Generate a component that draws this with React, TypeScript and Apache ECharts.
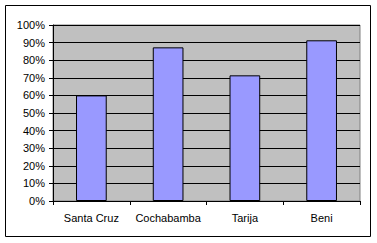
import React, { useEffect, useRef } from "react";
import * as echarts from "echarts";

const categories = ["Santa Cruz", "Cochabamba", "Tarija", "Beni"];
const values = [0.6, 0.873, 0.714, 0.913];

export default function App() {
  const ref = useRef<HTMLDivElement>(null);
  useEffect(() => {
    document.body.style.margin = "0";
    const chart = echarts.init(ref.current!, null, { renderer: "svg" });
    const font = { color: "#000", fontSize: 11, fontFamily: "Liberation Sans, Arial, sans-serif" };
    chart.setOption({
      animation: false,
      backgroundColor: "#fff",
      graphic: [
        {
          type: "rect",
          shape: { x: 5.5, y: 5.5, width: 365, height: 231 },
          style: { fill: "none", stroke: "#000", lineWidth: 1 },
          z: -1,
        },
      ],
      grid: {
        left: 53,
        top: 25,
        width: 307,
        height: 176,
        show: true,
        backgroundColor: "#C0C0C0",
        borderColor: "#808080",
        borderWidth: 1,
      },
      xAxis: {
        type: "category",
        data: categories,
        axisLine: { lineStyle: { color: "#000", width: 1 } },
        axisTick: { show: true, length: 4, lineStyle: { color: "#000" } },
        axisLabel: { ...font, margin: 11, interval: 0, hideOverlap: false },
        splitLine: { show: false },
      },
      yAxis: {
        type: "value",
        min: 0,
        max: 1,
        interval: 0.1,
        axisLine: { show: true, lineStyle: { color: "#000", width: 1 } },
        axisTick: { show: true, length: 4, lineStyle: { color: "#000" } },
        axisLabel: {
          ...font,
          margin: 8,
          formatter: (v: number) => Math.round(v * 100) + "%",
        },
        splitLine: { show: true, lineStyle: { color: "#000", width: 1 } },
      },
      series: [
        {
          type: "bar",
          data: values,
          barWidth: "40%",
          itemStyle: { color: "#9999FF", borderColor: "#000", borderWidth: 1 },
        },
      ],
    });
    return () => chart.dispose();
  }, []);
  return <div ref={ref} style={{ width: 377, height: 243 }} />;
}
